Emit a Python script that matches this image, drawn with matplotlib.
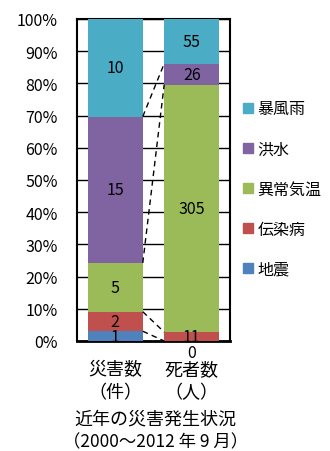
import numpy as np
import matplotlib.pyplot as plt
from matplotlib.patches import Patch
from matplotlib.ticker import PercentFormatter

plt.rcParams['font.family'] = ['Noto Sans CJK JP', 'DejaVu Sans']

#%% Data:
categories = ["災害数\n（件）", "死者数\n（人）"]
series = ["地震", "伝染病", "異常気温", "洪水", "暴風雨"]
disasters = [1, 2, 5, 15, 10]
deaths = [0, 11, 305, 26, 55]
colors = ["#4F81BD", "#C0504D", "#9BBB59", "#8064A2", "#4BACC6"]

counts = np.array([disasters, deaths], dtype=float)  # shape (cat, series)
shares = counts / counts.sum(axis=1, keepdims=True)
tops = np.cumsum(shares, axis=1)
bottoms = tops - shares

#%% Plot:
fig = plt.figure(figsize=(3.30, 4.52), dpi=100)
ax = fig.add_axes([0.2333, 0.2434, 0.4636, 0.7124])

x = np.arange(len(categories))
width = 0.72
for s in range(len(series)):
    ax.bar(x, shares[:, s], width, bottom=bottoms[:, s], color=colors[s],
           zorder=3, label=series[s])
    for c in range(len(categories)):
        yc = bottoms[c, s] + shares[c, s] / 2
        off = -8 if counts[c, s] == 0 else 0
        ax.annotate(f"{int(counts[c, s])}", (x[c], yc), xytext=(0, off),
                    textcoords="offset points", ha="center", va="center",
                    fontsize=11.5, zorder=5, annotation_clip=False)

# Series lines between the two bars
for s in range(len(series) - 1):
    ax.plot([x[0] + width / 2, x[1] - width / 2], [tops[0, s], tops[1, s]],
            color="black", lw=1, ls=(0, (4, 3)), zorder=4)

ax.set_xlim(-0.5, 1.5)
ax.set_ylim(0, 1)
ax.set_yticks(np.arange(0, 1.01, 0.1))
ax.yaxis.set_major_formatter(PercentFormatter(1.0, decimals=0))
ax.grid(axis="y", color="black", lw=1, zorder=1)
ax.tick_params(axis="y", labelsize=11.5, length=0, pad=14)
ax.set_xticks(x)
ax.set_xticklabels(categories, fontsize=13, linespacing=1.35)
ax.tick_params(axis="x", length=0, pad=14)
for sp in ax.spines.values():
    sp.set_color("black")
    sp.set_linewidth(1.5)
ax.spines["bottom"].set_linewidth(2)

handles = [Patch(color=colors[s], label=series[s]) for s in range(len(series))][::-1]
fig.legend(handles=handles, loc="upper left", bbox_to_anchor=(0.737, 0.776),
           frameon=False, fontsize=11.5, handlelength=0.6, handleheight=0.6,
           handletextpad=0.3, labelspacing=1.45, borderpad=0, borderaxespad=0)

fig.text(0.47, 0.072, "近年の災害発生状況", ha="center", va="center", fontsize=13)
fig.text(0.47, 0.022, "（2000～2012 年 9 月）", ha="center", va="center", fontsize=12.5)

plt.savefig("out.png", dpi=100)
